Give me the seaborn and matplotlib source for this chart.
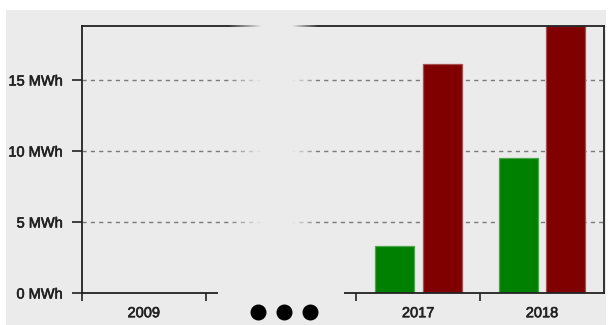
import numpy as np
import pandas as pd
import matplotlib
matplotlib.use("Agg")
import matplotlib.pyplot as plt
import matplotlib.patheffects as pe
import seaborn as sns
from matplotlib.patches import Rectangle
from matplotlib.lines import Line2D
from matplotlib.colors import to_rgb

# ---- data -------------------------------------------------------------
years = ["2009", "2017", "2018"]
generated = [0.0, 3.3, 9.5]
consumed = [0.0, 16.1, 18.8]
series_names = ["generated", "consumed"]
y_ticks = [0, 5, 10, 15]
y_tick_labels = [f"{v} MWh" for v in y_ticks]

# ---- style ------------------------------------------------------------
W, H, DPI = 611, 325, 100
BG = "#ebebeb"
INK = "#222222"
GREEN = "#008000"
RED = "#800000"
BREAK = 1.215         # extra room left for the skipped years

sns.set_theme(style="white")
plt.rcParams["font.family"] = ["Liberation Sans", "DejaVu Sans"]

fig = plt.figure(figsize=(W / DPI, H / DPI), dpi=DPI, facecolor="white")
fig.patches.append(Rectangle((6 / W, 0), 600 / W, (H - 10) / H,
                             transform=fig.transFigure, facecolor=BG,
                             edgecolor="none", zorder=-10))

ax = fig.add_axes([82 / W, 32 / H, 522 / W, 267 / H])
ax.set_facecolor(BG)

# category slots on a numeric axis, with a break after the first year
pos = np.array([0.0, 1.0 + BREAK, 2.0 + BREAK])[: len(years)]

df = pd.DataFrame({
    "pos": np.concatenate([pos, pos]),
    "year": years * 2,
    "series": [series_names[0]] * len(years) + [series_names[1]] * len(years),
    "value": generated + consumed,
})

sns.barplot(data=df, x="pos", y="value", hue="series", hue_order=series_names,
            palette=[GREEN, RED], saturation=1, native_scale=True,
            width=0.77, gap=0.18, legend=False, ax=ax,
            linewidth=0.9, edgecolor="white")

# soft, lighter outline around each bar
for p in ax.patches:
    fc = np.array(to_rgb(p.get_facecolor()))
    p.set_edgecolor(tuple(fc + (1 - fc) * 0.3))
    if p.get_height() == 0:
        p.set_linewidth(0)

ax.set_xlim(-0.5, pos[-1] + 0.5)
ax.set_ylim(0, max(consumed + generated))

# y axis
ax.set_yticks(y_ticks)
ax.set_yticklabels(y_tick_labels)
ax.yaxis.grid(True, color="#7a7a7a", linestyle=(0, (3, 3)), linewidth=1.0)
ax.xaxis.grid(False)
ax.set_axisbelow(True)
ax.tick_params(axis="y", length=7.2, width=1.2, color=INK, pad=6.5,
               labelsize=10.5, labelcolor=INK, left=True)

# x axis: ticks on slot boundaries, year labels centred in slots
bounds = [pos[0] - 0.5, pos[0] + 0.5, pos[1] - 0.5, pos[1] + 0.5]
ax.set_xticks(bounds)
ax.set_xticklabels([""] * len(bounds))
ax.set_xticks(pos, minor=True)
ax.set_xticklabels(years, minor=True)
ax.tick_params(axis="x", which="major", length=6, width=1.2, color=INK,
               bottom=True)
ax.tick_params(axis="x", which="minor", length=0, pad=9.5, labelsize=10.5,
               labelcolor=INK, bottom=True)
ax.set_xlabel("")
ax.set_ylabel("")

heavy = [pe.withStroke(linewidth=0.45, foreground=INK)]
for t in ax.get_yticklabels() + ax.get_xticklabels(minor=True):
    t.set_path_effects(heavy)

for s in ax.spines.values():
    s.set_visible(True)
    s.set_color(INK)
    s.set_linewidth(1.3)

# fade the grid and frame out across the break: one pixel column at a time
x0, n = 228, 90
alpha = np.interp(np.arange(n) + 0.5, [0, 34, 64, n], [0, 1, 1, 0])
for i, a in enumerate(alpha):
    fig.patches.append(Rectangle(((x0 + i) / W, (H - 291) / H), 1 / W, 272 / H,
                                 transform=fig.transFigure, facecolor=BG,
                                 edgecolor="none", alpha=a, zorder=5,
                                 antialiased=False))

# gap in the baseline plus the "skipped" marker
fig.patches.append(Rectangle((218 / W, (H - 298) / H), 126 / W, 9 / H,
                             transform=fig.transFigure, facecolor=BG,
                             edgecolor="none", zorder=6, antialiased=False))
fig.add_artist(Line2D([258 / W, 284 / W, 310 / W], [(H - 312) / H] * 3,
                      transform=fig.transFigure, linestyle="none",
                      marker="o", markersize=10.5, color="black", zorder=7))

fig.savefig("out.png", dpi=DPI, facecolor="white")
